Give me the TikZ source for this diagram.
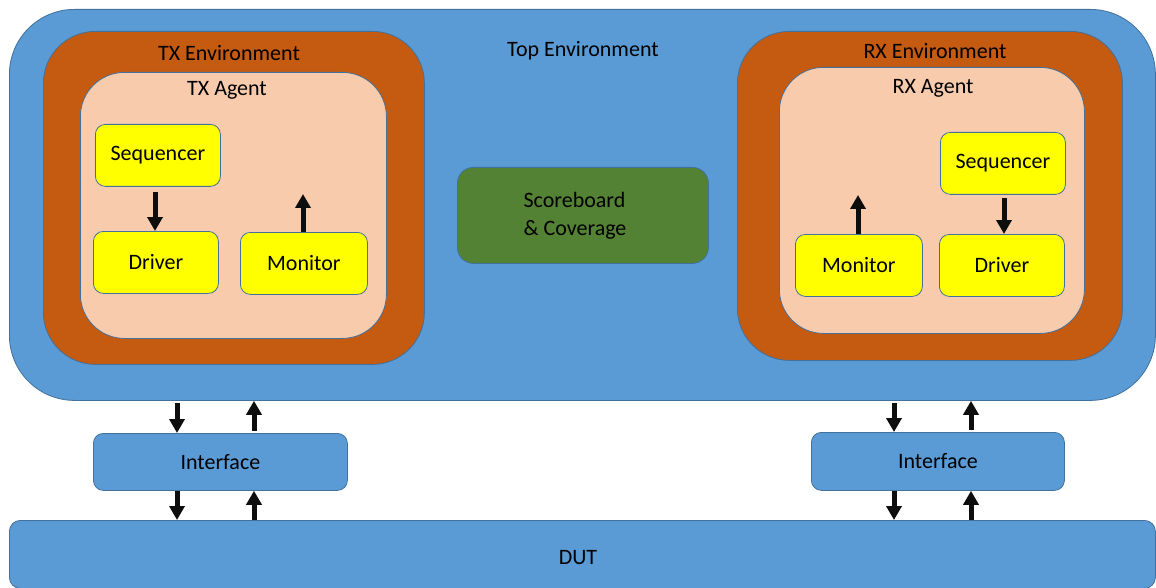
\documentclass[tikz,border=0pt]{standalone}
\usepackage{fontspec}
\setmainfont{Carlito}
\usetikzlibrary{arrows.meta}
\definecolor{topblue}{HTML}{5B9BD5}
\definecolor{edgeblue}{HTML}{41719C}
\definecolor{envorange}{HTML}{C55A11}
\definecolor{agentpeach}{HTML}{F8CBAD}
\definecolor{compyellow}{HTML}{FFFF00}
\definecolor{sbgreen}{HTML}{548235}
\definecolor{arrowblack}{HTML}{0D0D0D}

\tikzset{
  blk/.style={draw=edgeblue, line width=0.8pt, rounded corners=#1, inner sep=0pt,
              anchor=north west, font=\fontsize{22}{28}\selectfont},
  lbl/.style={inner sep=0pt, anchor=center, font=\fontsize{22}{28}\selectfont},
  comp/.style={blk=10pt, fill=compyellow, minimum width=125pt, minimum height=62pt},
  arr/.style={draw=arrowblack, line width=5pt,
              -{Triangle[width=15pt,length=14pt]}},
}

\begin{document}
\begin{tikzpicture}[x=1pt, y=-1pt]
\useasboundingbox (0,0) rectangle (1156,588);

% Top environment
\node[blk=65pt, fill=topblue, minimum width=1146pt, minimum height=391pt] (top) at (9,9) {};
\node[lbl] (toplbl) at (583,51) {Top Environment};

% TX side
\node[blk=52pt, fill=envorange, minimum width=381pt, minimum height=333pt] (txenv) at (43,31) {};
\node[lbl] (txenvlbl) at (229,53) {TX Environment};
\node[blk=44pt, fill=agentpeach, minimum width=306pt, minimum height=266pt] (txag) at (80,72) {};
\node[lbl] (txaglbl) at (227,90) {TX Agent};
\node[comp] (txseq) at (95,124) {Sequencer};
\node[comp] (txdrv) at (93,231) {Driver};
\node[comp, minimum width=127pt] (txmon) at (240,232) {Monitor};
\coordinate (txmonout) at (303,194);

% Scoreboard
\node[blk=16pt, fill=sbgreen, minimum width=251pt, minimum height=96pt] (sb) at (457,167) {};
\node[lbl, align=left] (sblbl) at (575,216) {Scoreboard\\\& Coverage};

% RX side
\node[blk=52pt, fill=envorange, minimum width=385pt, minimum height=329pt] (rxenv) at (737,31) {};
\node[lbl] (rxenvlbl) at (935,51) {RX Environment};
\node[blk=44pt, fill=agentpeach, minimum width=305pt, minimum height=266pt] (rxag) at (779,67) {};
\node[lbl] (rxaglbl) at (933,88) {RX Agent};
\node[comp] (rxseq) at (940,132) {Sequencer};
\node[comp] (rxdrv) at (939,234) {Driver};
\node[comp, minimum width=127pt] (rxmon) at (795,234) {Monitor};
\coordinate (rxmonout) at (858,195);

% Interfaces and DUT
\node[blk=10pt, fill=topblue, minimum width=254pt, minimum height=57pt] (txif) at (93,433) {Interface};
\node[blk=10pt, fill=topblue, minimum width=253pt, minimum height=58pt] (rxif) at (811,432) {Interface};
\node[blk=11pt, fill=topblue, minimum width=1146pt, minimum height=68pt] (dut) at (9,520) {};
\node[lbl] (dutlbl) at (578,558) {DUT};

\coordinate (txdn) at (177,0);
\coordinate (txup) at (254,0);
\coordinate (rxdn) at (894,0);
\coordinate (rxup) at (971,0);
\coordinate (txsd) at (155,0);
\coordinate (rxsd) at (1004,0);

% Agent-internal connections
\draw[arr, shorten <=5pt] (txseq.south -| txsd) -- (txdrv.north -| txsd);
\draw[arr] (txmon.north -| txmonout) -- (txmonout);
\draw[arr, shorten <=3pt] (rxseq.south -| rxsd) -- (rxdrv.north -| rxsd);
\draw[arr] (rxmon.north -| rxmonout) -- (rxmonout);

% Environment <-> interface <-> DUT
\draw[arr, shorten <=2pt] (top.south -| txdn) -- (txif.north -| txdn);
\draw[arr, shorten <=2pt] (txif.north -| txup) -- (top.south -| txup);
\draw[arr] (txif.south -| txdn) -- (dut.north -| txdn);
\draw[arr] (dut.north -| txup) -- (txif.south -| txup);
\draw[arr, shorten <=2pt] (top.south -| rxdn) -- (rxif.north -| rxdn);
\draw[arr, shorten <=2pt] (rxif.north -| rxup) -- (top.south -| rxup);
\draw[arr] (rxif.south -| rxdn) -- (dut.north -| rxdn);
\draw[arr] (dut.north -| rxup) -- (rxif.south -| rxup);
\end{tikzpicture}
\end{document}
